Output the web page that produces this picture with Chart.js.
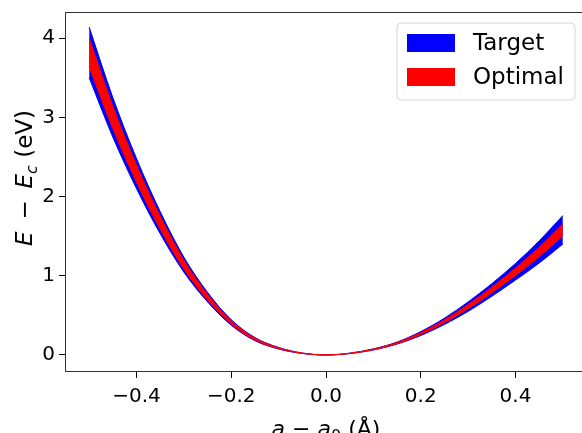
<!DOCTYPE html>
<html>
<head>
<meta charset="utf-8">
<script src="https://cdn.jsdelivr.net/npm/chart.js@4.4.0/dist/chart.umd.min.js"></script>
<style>
  html, body { margin: 0; padding: 0; background: #fff; overflow: hidden; }
  #wrap { width: 600px; height: 433px; }
</style>
</head>
<body>
<div id="wrap"><canvas id="myChart" width="600" height="433"></canvas></div>
<script>
// strain values a - a0 (Angstrom)
var xVals = [-0.5, -0.45, -0.4, -0.35, -0.3, -0.25, -0.2, -0.15, -0.1, -0.05, 0,
             0.05, 0.1, 0.15, 0.2, 0.25, 0.3, 0.35, 0.4, 0.45, 0.5];
// Target band (eV)
var targetUpper = [4.14, 3.25, 2.48, 1.81, 1.235, 0.79, 0.445, 0.22, 0.095, 0.025, 0,
                   0.023, 0.077, 0.163, 0.295, 0.465, 0.67, 0.90, 1.155, 1.44, 1.76];
var targetLower = [3.50, 2.75, 2.10, 1.53, 1.045, 0.67, 0.375, 0.18, 0.075, 0.019, 0,
                   0.017, 0.063, 0.137, 0.245, 0.385, 0.55, 0.74, 0.945, 1.16, 1.40];
// Optimal band (eV)
var optimalUpper = [4.00, 3.14, 2.395, 1.75, 1.195, 0.765, 0.43, 0.212, 0.091, 0.024, 0,
                    0.022, 0.074, 0.157, 0.282, 0.443, 0.636, 0.855, 1.097, 1.36, 1.656];
var optimalLower = [3.64, 2.86, 2.185, 1.59, 1.085, 0.695, 0.39, 0.188, 0.079, 0.020, 0,
                    0.018, 0.066, 0.143, 0.258, 0.407, 0.584, 0.785, 1.003, 1.24, 1.504];
var xTicks = [-0.4, -0.2, 0.0, 0.2, 0.4];
var yTicks = [0, 1, 2, 3, 4];

var tickFont = { family: 'DejaVu Sans', size: 20 };

function pts(ys) {
    var out = [];
    for (let i = 0; i < xVals.length; i++) {
        out.push({ x: xVals[i], y: ys[i] });
    }
    return out;
}

function band(label, data, color, fill, order) {
    return {
        label: label,
        data: pts(data),
        borderColor: color,
        backgroundColor: color,
        borderWidth: 1,
        pointRadius: 0,
        cubicInterpolationMode: 'monotone',
        fill: fill,
        order: order
    };
}

function drawParts(c, parts, cx, y) {
    var total = 0;
    for (let i = 0; i < parts.length; i++) {
        c.font = parts[i][0];
        total += c.measureText(parts[i][1]).width;
    }
    var x = cx - total / 2;
    c.textAlign = 'left';
    for (let i = 0; i < parts.length; i++) {
        c.font = parts[i][0];
        c.fillText(parts[i][1], x, y + parts[i][2]);
        x += c.measureText(parts[i][1]).width;
    }
}

// frame around plot + axis titles + legend box
var decorations = {
    id: 'decorations',
    afterDraw: function (chart) {
        var c = chart.ctx, a = chart.chartArea;
        c.save();
        c.strokeStyle = '#333';
        c.lineWidth = 1;
        c.strokeRect(a.left + 0.5, a.top + 0.5, a.right - a.left - 1, a.bottom - a.top - 1);

        c.fillStyle = '#000';
        c.textBaseline = 'alphabetic';
        // x title: a − a0 (Å)
        var parts = [
            ['italic 22px DejaVu Sans', 'a', 0],
            ['22px DejaVu Sans', ' \u2212 ', 0],
            ['italic 22px DejaVu Sans', 'a', 0],
            ['16px DejaVu Sans', '0', 5],
            ['22px DejaVu Sans', ' (\u00c5)', 0]
        ];
        drawParts(c, parts, (a.left + a.right) / 2, 436);
        // y title: E − Ec (eV)
        var yparts = [
            ['italic 23px DejaVu Sans', 'E', 0],
            ['23px DejaVu Sans', ' \u2009\u2212\u2009 ', 0],
            ['italic 23px DejaVu Sans', 'E', 0],
            ['italic 16px DejaVu Sans', 'c', 5],
            ['23px DejaVu Sans', ' (eV)', 0]
        ];
        c.save();
        c.translate(32, 178);
        c.rotate(-Math.PI / 2);
        drawParts(c, yparts, 0, 0);
        c.restore();

        // legend
        var lx = 397, ly = 23, lw = 178, lh = 77, r = 4;
        c.beginPath();
        c.moveTo(lx + r, ly);
        c.arcTo(lx + lw, ly, lx + lw, ly + lh, r);
        c.arcTo(lx + lw, ly + lh, lx, ly + lh, r);
        c.arcTo(lx, ly + lh, lx, ly, r);
        c.arcTo(lx, ly, lx + lw, ly, r);
        c.closePath();
        c.fillStyle = 'rgba(255,255,255,0.8)';
        c.fill();
        c.strokeStyle = '#d6d6d6';
        c.stroke();
        var entries = [chart.data.datasets[0], chart.data.datasets[2]];
        c.font = '23px DejaVu Sans';
        c.textBaseline = 'middle';
        for (let i = 0; i < entries.length; i++) {
            var cy = 43 + i * 34;
            c.fillStyle = entries[i].backgroundColor;
            c.fillRect(407, cy - 9, 48, 18);
            c.fillStyle = '#000';
            c.fillText(entries[i].label, 473, cy + 1);
        }
        c.restore();
    }
};

var ctx = document.getElementById('myChart').getContext('2d');
var myChart = new Chart(ctx, {
    type: 'line',
    data: {
        datasets: [
            band('Target', targetUpper, '#0000ff', '+1', 2),
            band('', targetLower, '#0000ff', false, 2),
            band('Optimal', optimalUpper, '#ff0000', '+1', 1),
            band('', optimalLower, '#ff0000', false, 1)
        ]
    },
    options: {
        responsive: false,
        animation: false,
        layout: {
            padding: { left: 0, top: 12, right: 13, bottom: 0 }
        },
        plugins: {
            legend: { display: false },
            tooltip: { enabled: false }
        },
        scales: {
            x: {
                type: 'linear',
                min: -0.551,
                max: 0.551,
                afterBuildTicks: function (axis) {
                    axis.ticks = xTicks.map(function (v) { return { value: v }; });
                },
                afterFit: function (axis) {
                    axis.height = 61;
                    axis.paddingLeft = 0;
                    axis.paddingRight = 0;
                },
                ticks: {
                    color: '#000',
                    font: tickFont,
                    padding: 7,
                    maxRotation: 0,
                    callback: function (v) {
                        return v < 0 ? '\u2212' + Math.abs(v).toFixed(1) : v.toFixed(1);
                    }
                },
                grid: { drawOnChartArea: false, drawTicks: true, tickLength: 6, tickColor: '#000' },
                border: { display: false }
            },
            y: {
                min: -0.215,
                max: 4.33,
                afterBuildTicks: function (axis) {
                    axis.ticks = yTicks.map(function (v) { return { value: v }; });
                },
                afterFit: function (axis) {
                    axis.width = 65;
                    axis.paddingTop = 0;
                    axis.paddingBottom = 0;
                },
                ticks: {
                    color: '#000',
                    font: tickFont,
                    padding: 4,
                    callback: function (v) { return String(v); }
                },
                grid: { drawOnChartArea: false, drawTicks: true, tickLength: 6, tickColor: '#000' },
                border: { display: false }
            }
        }
    },
    plugins: [decorations]
});
</script>
</body>
</html>
